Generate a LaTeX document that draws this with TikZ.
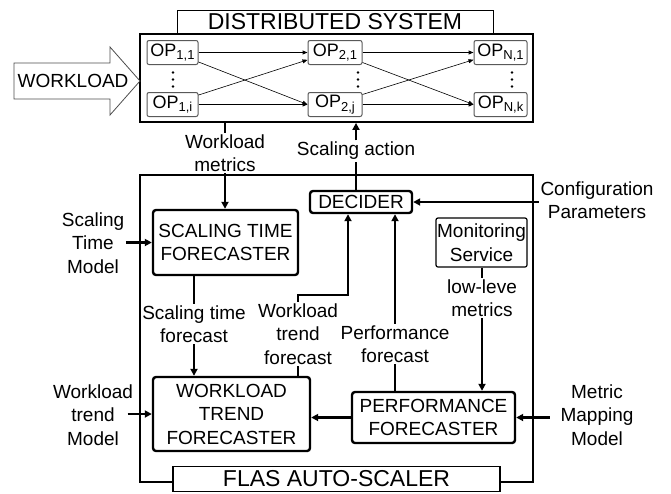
\documentclass[tikz,border=0pt]{standalone}
\usepackage{fontspec}
\setmainfont{Liberation Sans}
\usetikzlibrary{arrows.meta}
\newcommand{\opsub}[1]{\raisebox{-3.5pt}{\fontsize{13}{13}\selectfont #1}}
\begin{document}
\begin{tikzpicture}[x=1pt,y=-1pt,
  lbl/.style={font=\fontsize{19}{23.5}\selectfont, align=center, inner sep=1.5pt},
  fbox/.style={draw, line width=2.4pt, rounded corners=3pt, align=center,
    font=\fontsize{19}{23.5}\selectfont, inner sep=0pt},
  opbox/.style={draw=black!65, line width=1pt, rounded corners=2pt, fill=white,
    font=\fontsize{18}{20}\selectfont, inner sep=0pt, minimum height=24pt},
  ttl/.style={draw, font=\fontsize{23}{26}\selectfont, inner sep=0pt},
  conn/.style={line width=2.4pt},
  arr/.style={-{Triangle[length=7pt,width=7pt]}},
  opa/.style={line width=1pt,-{Triangle[length=5pt,width=4pt]}},
  opd/.style={line width=0.6pt,-{Triangle[length=5pt,width=4pt]}},
  dotr/.style={fill=black}
]
\useasboundingbox (0,0) rectangle (671,493);

% distributed system
\node[draw, line width=1.8pt, minimum width=393pt, minimum height=88pt, inner sep=0pt] (dist) at (336.5,78) {};
\node[ttl, line width=1pt, minimum width=316pt, minimum height=24pt] (disttitle) at (335,22) {DISTRIBUTED SYSTEM};

% workload arrow
\draw[line width=0.8pt, draw=black!70] (14,63) -- (110,63) -- (110,47) -- (140,81) -- (110,115) -- (110,99) -- (14,99) -- cycle;
\node[lbl] (wl) at (73,81) {WORKLOAD};

% operators
\node[opbox, minimum width=51pt] (o11) at (172.5,52.5) {OP\opsub{1,1}};
\node[opbox, minimum width=51pt] (o1i) at (172.5,104.5) {OP\opsub{1,i}};
\node[opbox, minimum width=54pt] (o21) at (335,52.5) {OP\opsub{2,1}};
\node[opbox, minimum width=54pt] (o2j) at (335,104.5) {OP\opsub{2,j}};
\node[opbox, minimum width=53pt] (oN1) at (500.5,52.5) {OP\opsub{N,1}};
\node[opbox, minimum width=53pt] (oNk) at (500.5,104.5) {OP\opsub{N,k}};
\foreach \dx in {173,358,512}{
  \foreach \dy in {72.5,79.5,86.5}{
    \fill[dotr] (\dx,\dy) circle (1.3pt);
  }
}

\draw[opa] (o11.east) -- (o21.west);
\draw[opa] (o1i.east) -- (o2j.west);
\draw[opd] (o11.-20) -- (o2j.west);
\draw[opd] (o1i.20) -- (o21.195);
\draw[opa] (o21.east) -- (oN1.west);
\draw[opa] (o2j.east) -- (oNk.west);
\draw[opd] (o21.-20) -- (oNk.west);
\draw[opd] (o2j.20) -- (oN1.195);

% FLAS outer box
\node[draw, line width=2.4pt, minimum width=393pt, minimum height=307pt, inner sep=0pt] (flas) at (336.5,328.5) {};
\node[ttl, line width=1.8pt, fill=white, minimum width=327pt, minimum height=25pt] (flastitle) at (336.5,479) {FLAS AUTO-SCALER};

% boxes
\node[fbox, minimum width=145pt, minimum height=65pt] (stf) at (225.5,242.5) {SCALING TIME\\FORECASTER};
\node[fbox, minimum width=102pt, minimum height=22pt] (dec) at (361,202) {DECIDER};
\node[draw, line width=1.2pt, rounded corners=2pt, align=center, font=\fontsize{19}{23.5}\selectfont,
  inner sep=0pt, minimum width=91pt, minimum height=49pt] (mon) at (481.5,242.5) {Monitoring\\Service};
\node[fbox, minimum width=157pt, minimum height=74pt] (wtf) at (231.5,414) {WORKLOAD\\TREND\\FORECASTER};
\node[fbox, minimum width=163pt, minimum height=51pt] (pf) at (433.5,417.5) {PERFORMANCE\\FORECASTER};

% labels
\node[lbl] (wm) at (225,153) {Workload\\metrics};
\node[lbl] (sa) at (356,151) {Scaling action};
\node[lbl] (cp) at (597,200) {Configuration\\Parameters};
\node[lbl] (stm) at (93,243) {Scaling\\Time\\Model};
\node[lbl] (ll) at (482,298) {low-leve\\metrics};
\node[lbl] (stfc) at (194,324) {Scaling time\\forecast};
\node[lbl] (wtfc) at (298,334) {Workload\\trend\\forecast};
\node[lbl] (pfc) at (395,344) {Performance\\forecast};
\node[lbl] (wtm) at (93,415) {Workload\\trend\\Model};
\node[lbl] (mmm) at (597,415) {Metric\\Mapping\\Model};
\coordinate (wtc) at (348,295);

% connectors
\draw[conn] (wm.north |- dist.south) -- (wm.north);
\draw[conn,arr] (wm.south) -- (wm.south |- stf.north);
\draw[conn] (dec.north -| sa) -- (sa.south);
\draw[conn,arr] (sa.north) -- (sa.north |- dist.south);
\draw[conn,arr] (cp.west |- dec.east) -- (dec.east);
\draw[conn,arr] (stf.west -| stm.east) -- (stf.west);
\draw[conn] (stf.south -| stfc) -- (stfc.north);
\draw[conn,arr] (stfc.south) -- (stfc.south |- wtf.north);
\draw[conn,arr] ([xshift=-7pt]wtf.west -| wtm.east) -- (wtf.west);
\draw[conn] (wtf.north -| wtfc) -- (wtfc.south);
\draw[conn,arr] (wtfc.north) |- (wtc) -- (wtc |- dec.south);
\draw[conn] (pf.north -| pfc) -- (pfc.south);
\draw[conn,arr] (pfc.north) -- (pfc.north |- dec.south);
\draw[conn] (mon.south -| ll) -- (ll.north);
\draw[conn,arr] (ll.south) -- (ll.south |- pf.north);
\draw[conn,arr] (pf.west) -- (pf.west -| wtf.east);
\draw[conn,arr] ([xshift=-9pt]pf.east -| mmm.west) -- (pf.east);
\end{tikzpicture}
\end{document}
